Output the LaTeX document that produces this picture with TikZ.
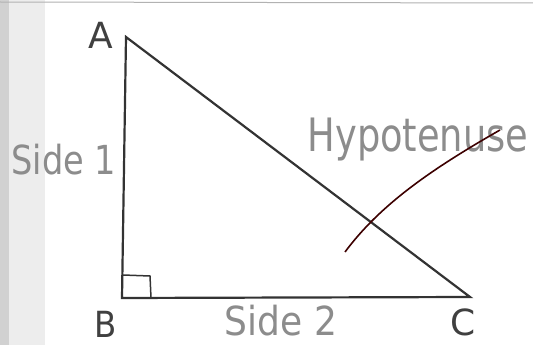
\documentclass[tikz,border=0pt]{standalone}
\usepackage{fontspec}
\setmainfont{DejaVu Sans}
\begin{document}
\begin{tikzpicture}[x=1pt,y=-1pt,
  edge/.style={draw=black!80,line width=2.2pt,line join=miter},
  vlabel/.style={text=black!75,font=\fontsize{36}{36}\selectfont, inner sep=0pt},
  slabel/.style={text=black!45,font=\fontsize{40}{40}\selectfont, inner sep=0pt}]
\useasboundingbox (0,0) rectangle (533,345);
\fill[white] (0,0) rectangle (533,345);
\fill[black!18] (0,0) rectangle (9,345);
\fill[black!7] (9,0) rectangle (45,345);
\draw[black!30,line width=1pt] (0,2) -- (533,3);
\coordinate (A) at (126,37);
\coordinate (B) at (122,298);
\coordinate (C) at (470,297);
\draw[edge] (A) -- (B) -- (C) -- cycle;
\draw[black!80,line width=1.5pt] (123,275) -- (150,276) -- (151,298);
\node[vlabel] (la) at (101,35) {A};
\node[vlabel,xscale=0.9] (lb) at (106,324) {B};
\node[vlabel] (lc) at (463,322) {C};
\node[slabel,xscale=0.84] (s1) at (64,160) {Side 1};
\node[slabel,xscale=0.9] (s2) at (281,321) {Side 2};
\node[slabel,xscale=0.8,font=\fontsize{46}{46}\selectfont] (hy) at (418,140) {Hypotenuse};
\draw[black!70!red!80!black,line width=1.6pt] (345,252) .. controls (380,205) and (430,170) .. (500,130);
\end{tikzpicture}
\end{document}
